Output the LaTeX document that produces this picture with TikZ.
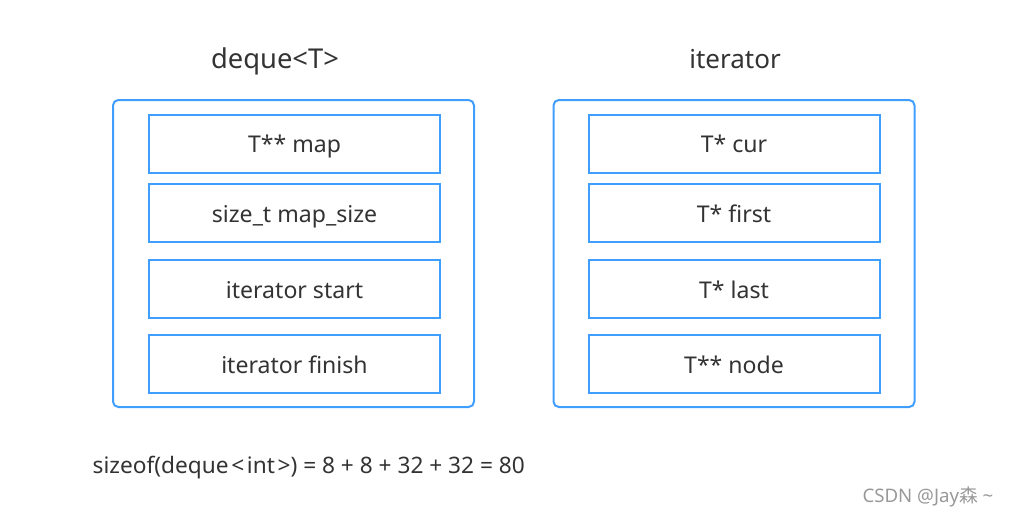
\documentclass[tikz,border=0pt]{standalone}
\usepackage{fontspec}
\setmainfont{Noto Sans}
\newfontfamily\cjkfont{Noto Sans CJK SC}
\usetikzlibrary{positioning}
\definecolor{mblue}{RGB}{64,158,255}
\definecolor{mtext}{RGB}{51,51,51}
\tikzset{outerbox/.style = {draw=mblue, line width=1.5pt, rounded corners=4pt,
                            minimum width=361*0.75pt, minimum height=307*0.75pt},
         fieldbox/.style = {draw=mblue, line width=1.5pt, text=mtext,
                            minimum width=291*0.75pt, minimum height=58*0.75pt,
                            text height=14.2pt, text depth=0pt,
                            font=\fontsize{17.3}{20}\selectfont},
         title/.style = {text=mtext, anchor=base, font=\fontsize{20.5}{24}\selectfont}}
\begin{document}
\begin{tikzpicture}[x=0.75pt, y=-0.75pt]
      \useasboundingbox (0, 0) rectangle (1010, 515);

      % deque
      \node [title] (dtitle) at (275, 68) {deque<T>};
      \node [outerbox] (deque) at (293.5, 253.5) {};
      \node [fieldbox] (map) at (294.5, 143.5) {T** map};
      \node [fieldbox] (mapsize) at (294.5, 213) {size\_t map\_size};
      \node [fieldbox] (start) at (294.5, 289) {iterator start};
      \node [fieldbox] (finish) at (294.5, 364) {iterator finish};

      % iterator
      \node [title, font=\fontsize{19.5}{24}\selectfont] (ititle) at (735, 68) {iterator};
      \node [outerbox] (iter) at (734, 253.5) {};
      \node [fieldbox] (cur) at (734, 143.5) {T* cur};
      \node [fieldbox] (first) at (734, 213) {T* first};
      \node [fieldbox] (last) at (734, 289) {T* last};
      \node [fieldbox] (node) at (734, 364) {T** node};

      \node [text=mtext, anchor=base west, font=\fontsize{17}{20}\selectfont] (size)
            at (88, 473) {sizeof(deque\kern2pt<\kern2pt int\kern2pt>) = 8 + 8 + 32 + 32 = 80};

      \node [text=gray!80, anchor=east, font=\fontsize{14}{16}\selectfont] (mark)
            at (998, 497) {CSDN @Jay{\cjkfont 森} \textasciitilde};
    \end{tikzpicture}
\end{document}
